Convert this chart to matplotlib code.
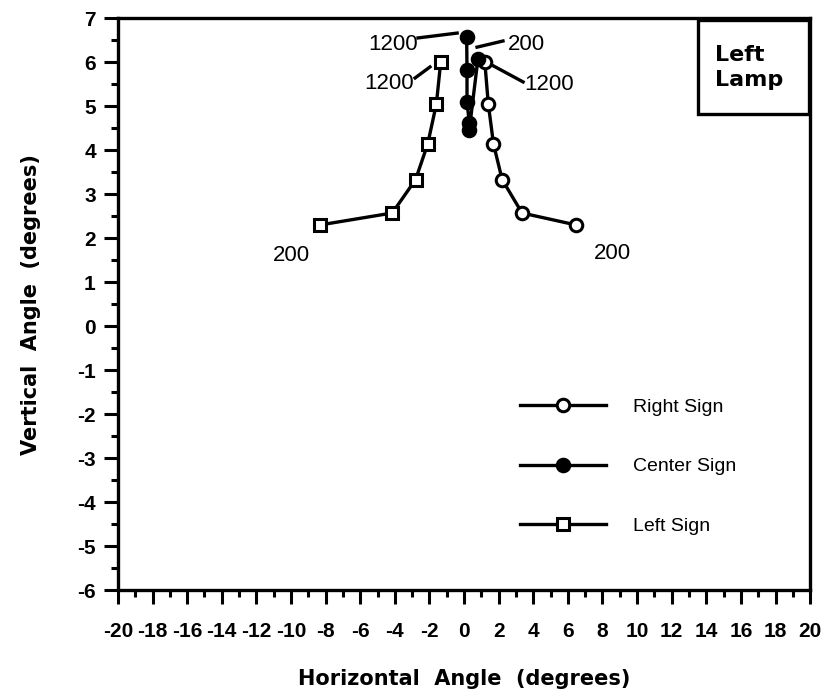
import matplotlib.pyplot as plt
from matplotlib.patches import Rectangle
from matplotlib.ticker import MultipleLocator

plt.rcParams['font.family'] = ['Liberation Sans', 'DejaVu Sans']
plt.rcParams['axes.unicode_minus'] = False

# distances 200 ... 1200 ft
right_x = [6.45, 3.35, 2.2, 1.7, 1.4, 1.2]
right_y = [2.3, 2.57, 3.33, 4.14, 5.05, 6.0]
center_x = [0.8, 0.3, 0.3, 0.17, 0.17, 0.15]
center_y = [6.07, 4.45, 4.62, 5.1, 5.82, 6.57]
left_x = [-8.3, -4.15, -2.8, -2.1, -1.6, -1.35]
left_y = [2.3, 2.57, 3.33, 4.14, 5.05, 6.0]

# (text, text x, text y, line start, line end)
labels = [
    ("1200", -4.1, 6.4, (-2.66, 6.55), (-0.4, 6.66)),
    ("200", 3.6, 6.4, (0.75, 6.34), (2.25, 6.48)),
    ("1200", -4.35, 5.52, (-2.83, 5.64), (-1.97, 5.89)),
    ("1200", 4.9, 5.48, (1.62, 5.93), (3.41, 5.55)),
    ("200", -9.95, 1.61, None, None),
    ("200", 8.6, 1.66, None, None),
]

fig = plt.figure(figsize=(8.25, 6.97), dpi=100)
ax = fig.add_axes([0.143, 0.1535, 0.839, 0.8205])

kw = dict(color='black', lw=2.4, markersize=9, markeredgewidth=2.2)
ax.plot(right_x, right_y, marker='o', markerfacecolor='white', label='Right Sign', **kw)
ax.plot(center_x, center_y, marker='o', markerfacecolor='black', label='Center Sign', **kw)
ax.plot(left_x, left_y, marker='s', markerfacecolor='white', label='Left Sign', **kw)

for txt, tx, ty, p0, p1 in labels:
    ax.text(tx, ty, txt, fontsize=16, ha='center', va='center')
    if p0 is not None:
        ax.plot([p0[0], p1[0]], [p0[1], p1[1]], color='black', lw=2.4)

ax.set_xlim(-20, 20)
ax.set_ylim(-6, 7)
ax.xaxis.set_major_locator(MultipleLocator(2))
ax.xaxis.set_minor_locator(MultipleLocator(1))
ax.yaxis.set_major_locator(MultipleLocator(1))
ax.yaxis.set_minor_locator(MultipleLocator(0.5))
ax.tick_params(which='major', length=10, width=2.2, direction='out', labelsize=15)
ax.tick_params(which='minor', length=5, width=2.2, direction='out')
ax.tick_params(axis='x', pad=13)
ax.tick_params(axis='y', pad=6)
for lab in ax.get_xticklabels() + ax.get_yticklabels():
    lab.set_fontweight('bold')
for lab in ax.get_xticklabels():
    lab.set_fontstretch('condensed')
for s in ax.spines.values():
    s.set_linewidth(2.4)

ax.set_xlabel('Horizontal  Angle  (degrees)', fontsize=15, fontweight='bold',
              family='DejaVu Sans', labelpad=20)
ax.set_ylabel('Vertical  Angle  (degrees)', fontsize=15, fontweight='bold',
              family='DejaVu Sans', labelpad=26)

ax.add_patch(Rectangle((0.838, 0.832), 0.16, 0.165, transform=ax.transAxes,
                       fill=False, lw=2.4, clip_on=False))
ax.text(0.863, 0.914, 'Left\nLamp', transform=ax.transAxes, fontsize=16,
        fontweight='bold', family='DejaVu Sans', ha='left', va='center',
        linespacing=1.3)

ax.legend(loc='upper left', bbox_to_anchor=(0.581, 0.335), frameon=False,
          fontsize=14, handlelength=4.4, labelspacing=2.15, handletextpad=1.4,
          borderpad=0, borderaxespad=0)

fig.savefig('out.png', dpi=100)
